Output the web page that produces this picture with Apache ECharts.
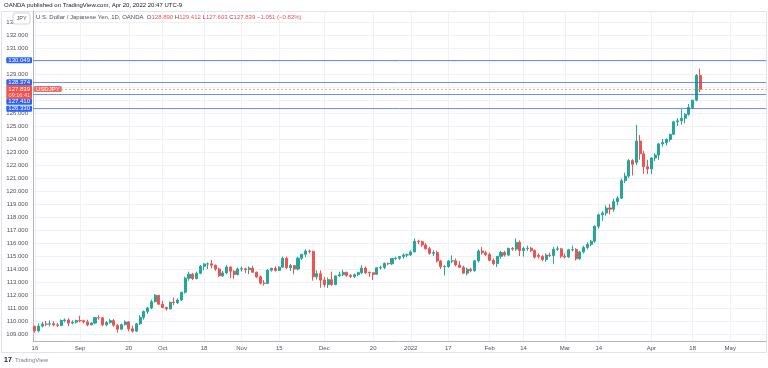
<!DOCTYPE html>
<html><head><meta charset="utf-8">
<script src="https://cdn.jsdelivr.net/npm/echarts@6/dist/echarts.min.js"></script>
<style>html,body{margin:0;padding:0;background:#fff}#c{width:768px;height:368px}</style>
</head><body><div id="c"></div><script>
// rows: [open, high, low, close]
const aug21 = [
 [109.59,109.63,109.11,109.24],[109.24,109.83,109.12,109.61],[109.61,109.93,109.50,109.77],[109.77,110.00,109.60,109.76],[109.76,110.05,109.60,109.79],
 [109.79,109.98,109.60,109.70],[109.70,109.85,109.55,109.66],[109.66,110.12,109.60,110.03],[110.03,110.20,109.90,110.08],[110.08,110.21,109.60,109.84],
 [109.84,110.05,109.75,109.91],[109.91,110.10,109.80,110.03]];
const sep21 = [
 [110.03,110.40,109.90,110.02],[110.02,110.10,109.80,109.93],[109.93,110.10,109.60,109.70],
 [109.70,109.90,109.70,109.84],[109.84,110.30,109.75,110.26],[110.26,110.45,110.10,110.25],[110.25,110.30,109.60,109.71],[109.71,110.00,109.60,109.88],
 [109.88,110.15,109.80,110.03],[110.03,110.15,109.55,109.68],[109.68,109.75,109.10,109.37],[109.37,109.80,109.30,109.72],[109.72,110.05,109.65,109.93],
 [109.93,109.98,109.20,109.40],[109.40,109.65,109.10,109.22],[109.22,109.85,109.15,109.78],[109.78,110.45,109.70,110.28],[110.28,110.80,110.10,110.74],
 [110.74,111.10,110.55,111.00],[111.00,111.65,110.90,111.49],[111.49,112.08,111.40,111.98],[111.98,112.00,111.25,111.29]];
const oct21 = [
 [111.29,111.55,110.98,111.04],
 [111.04,111.10,110.80,110.93],[110.93,111.50,110.90,111.44],[111.44,111.80,111.20,111.41],[111.41,111.75,111.30,111.61],[111.61,112.25,111.55,112.21],
 [112.21,113.40,112.10,113.29],[113.29,113.80,113.10,113.60],[113.60,113.70,113.15,113.27],[113.27,113.80,113.20,113.67],[113.67,114.30,113.60,114.21],
 [114.21,114.45,113.90,114.38],[114.38,114.50,114.00,114.40],[114.40,114.70,114.05,114.29],[114.29,114.35,113.85,114.00],[114.00,114.10,113.40,113.47],
 [113.47,113.85,113.40,113.70],[113.70,114.30,113.60,114.15],[114.15,114.20,113.30,113.83],[113.83,113.90,113.25,113.58],[113.58,114.10,113.50,114.00]];
const nov21 = [
 [114.00,114.20,113.80,114.02],[114.02,114.10,113.70,113.95],[113.95,114.20,113.60,114.07],[114.07,114.25,113.70,113.75],[113.75,113.80,113.30,113.40],
 [113.40,113.50,112.80,112.91],[112.91,113.15,112.72,112.89],[112.89,114.00,112.85,113.91],[113.91,114.10,113.80,114.05],[114.05,114.20,113.80,113.89],
 [113.89,114.20,113.85,114.14],[114.14,114.95,114.10,114.82],[114.82,114.95,114.00,114.11],[114.11,114.40,113.85,114.26],[114.26,114.30,113.60,114.00],
 [114.00,114.95,113.90,114.83],[114.83,115.15,114.70,115.13],[115.13,115.52,114.90,115.38],[115.38,115.50,115.20,115.36],[115.36,115.40,113.10,113.40],
 [113.40,113.90,113.20,113.64],[113.64,113.90,112.55,113.16]];
const dec21 = [
 [113.16,113.40,112.60,112.80],[112.80,113.35,112.55,113.18],[113.18,113.80,112.70,112.80],
 [112.80,113.50,112.75,113.47],[113.47,113.80,113.40,113.56],[113.56,113.95,113.45,113.74],[113.74,113.80,113.40,113.51],[113.51,113.60,113.30,113.42],
 [113.42,113.65,113.30,113.56],[113.56,113.80,113.45,113.72],[113.72,114.30,113.60,114.07],[114.07,114.20,113.60,113.71],[113.75,113.80,113.40,113.71],
 [113.71,113.75,113.15,113.59],[113.59,114.15,113.55,114.09],[114.09,114.25,113.95,114.12],[114.12,114.50,114.00,114.43],[114.43,114.50,114.30,114.40],
 [114.40,114.85,114.30,114.81],[114.81,114.95,114.70,114.83],[114.83,115.00,114.70,114.96],[114.96,115.20,114.80,115.08],[115.08,115.20,114.90,115.09]];
const jan22 = [
 [115.09,115.45,115.00,115.31],[115.31,116.35,115.30,116.13],[116.13,116.25,115.90,116.10],[116.10,116.20,115.70,115.85],[115.85,116.00,115.50,115.56],
 [115.56,115.70,115.10,115.21],[115.21,115.45,115.00,115.26],[115.26,115.40,114.50,114.62],[114.62,114.70,114.00,114.18],[114.18,114.30,113.50,114.19],
 [114.19,114.70,114.10,114.61],[114.61,115.05,114.45,114.63],[114.63,114.80,114.20,114.31],[114.31,114.60,114.10,114.13],[114.13,114.25,113.65,113.68],
 [113.68,114.10,113.50,113.98],[113.98,114.10,113.75,113.87],[113.87,114.70,113.80,114.63],[114.63,115.50,114.50,115.38],[115.38,115.70,115.10,115.25],
 [115.25,115.40,115.00,115.12]];
const feb22 = [
 [115.12,115.25,114.60,114.67],[114.67,114.80,114.30,114.42],[114.42,115.00,114.15,114.98],[114.98,115.40,114.80,115.26],
 [115.26,115.40,114.95,115.07],[115.07,115.65,115.00,115.58],[115.58,115.70,115.40,115.53],[115.53,116.35,115.40,116.05],[116.05,116.20,115.00,115.42],
 [115.42,115.70,114.95,115.58],[115.58,115.80,115.40,115.60],[115.60,115.70,115.30,115.43],[115.43,115.50,114.80,114.91],[115.05,115.20,114.80,114.97],
 [114.97,115.10,114.60,114.73],[114.73,115.20,114.55,115.07],[115.07,115.25,114.90,115.03],[115.03,115.70,114.40,115.52],[115.52,115.75,115.40,115.55],
 [115.55,115.60,114.85,114.99]];
const mar22 = [
 [114.99,115.20,114.80,114.93],[114.93,115.55,114.85,115.48],[115.48,115.80,115.35,115.50],[115.50,115.60,114.65,114.79],
 [114.79,115.40,114.70,115.31],[115.31,115.80,115.20,115.66],[115.66,116.05,115.50,115.89],[115.89,116.25,115.75,116.14],[116.14,117.35,116.00,117.29],
 [117.29,118.25,117.10,118.17],[118.17,118.45,117.70,118.31],[118.31,118.90,118.10,118.69],[118.69,119.00,118.20,118.60],[118.60,119.40,118.40,119.18],
 [119.18,119.60,118.90,119.45],[119.45,120.95,119.40,120.79],[120.79,121.40,120.60,121.15],[121.15,122.45,121.00,122.34],[122.34,122.45,121.20,122.05],
 [122.20,125.09,122.00,123.84],[123.84,124.30,122.40,122.86],[122.86,123.10,121.30,121.87],[121.87,122.40,121.30,121.69]];
const apr22 = [
 [121.69,122.60,121.30,122.54],
 [122.54,122.90,122.30,122.76],[122.76,123.70,122.40,123.62],[123.62,124.00,123.40,123.73],[123.73,124.05,123.50,123.96],[123.96,124.40,123.80,124.36],
 [124.36,125.40,124.30,125.32],[125.32,125.60,125.00,125.40],[125.40,126.30,125.10,125.60],[125.60,126.00,125.20,125.89],[125.89,126.70,125.80,126.42],
 [126.42,127.00,126.30,126.99],[126.99,129.00,126.90,128.89],[128.89,129.41,127.60,127.84]];

const firstDay = '2021-08-16';
const categoryCount = 195;
const xTickDates  = ['2021-08-16','2021-09-01','2021-09-20','2021-10-01','2021-10-18','2021-11-01','2021-11-15','2021-12-01','2021-12-20','2022-01-03','2022-01-17','2022-02-01','2022-02-14','2022-03-01','2022-03-14','2022-04-01','2022-04-18','2022-05-02'];
const xTickLabels = ['16','Sep','20','Oct','18','Nov','15','Dec','20','2022','17','Feb','14','Mar','14','Apr','18','May'];
const yTicks = [109,110,111,112,113,114,115,116,117,118,119,120,121,122,123,124,125,126,127,128,129,130,131,132,133];
const levels = [130.049, 128.374, 127.410, 126.330];
const lastPrice = 127.839;
const countdown = '09:16:41';
const symbolName = 'USDJPY';

const rows = [].concat(aug21, sep21, oct21, nov21, dec21, jan22, feb22, mar22, apr22);
const cats = [];
let d = new Date(firstDay + 'T00:00:00Z');
while (cats.length < categoryCount) {
  const wd = d.getUTCDay();
  if (wd !== 0 && wd !== 6) cats.push(d.toISOString().slice(0, 10));
  d = new Date(d.getTime() + 86400000);
}
const tickMap = {};
xTickDates.forEach((t, i) => { tickMap[t] = xTickLabels[i]; });
const candleData = rows.map(r => [r[0], r[3], r[2], r[1]]);

const FONT = 'Liberation Sans';
const UP = '#26a69a', DOWN = '#ef5350', BLUE = '#2962ff';

const levelLines = levels.map((v, i) => ({
  yAxis: v,
  lineStyle: { color: 'rgba(41,98,255,0.7)', width: 1, type: 'solid' },
  label: {
    show: true, position: 'start', distance: 1, formatter: v.toFixed(3),
    backgroundColor: BLUE, color: '#ffffff', fontSize: 6, fontFamily: FONT,
    padding: [0, 2, 0, 2], lineHeight: 6, borderRadius: 1,
    offset: i === 2 ? [0, 7] : [0, 0]
  }
}));

const chart = echarts.init(document.getElementById('c'), null, { renderer: 'canvas' });
chart.setOption({
  animation: false,
  backgroundColor: '#fff',
  grid: { left: 33, right: 2, top: 11, bottom: 27, containLabel: false },
  xAxis: {
    type: 'category', data: cats, boundaryGap: true,
    axisLine: { show: true, lineStyle: { color: '#b2b5be', width: 1 } },
    axisTick: { show: false },
    axisLabel: {
      interval: (i, v) => v in tickMap, formatter: v => tickMap[v] || '',
      fontSize: 6, color: '#50535e', margin: 4, fontFamily: FONT
    },
    splitLine: { show: true, alignWithLabel: true, interval: (i, v) => v in tickMap, lineStyle: { color: '#eef1f7', width: 1 } }
  },
  yAxis: {
    type: 'value', position: 'left', min: 108.4615, max: 133.846, scale: true,
    axisLine: { show: true, lineStyle: { color: '#b2b5be', width: 1 } },
    axisTick: { show: false, customValues: yTicks },
    axisLabel: { customValues: yTicks, formatter: v => v.toFixed(3), fontSize: 6, color: '#50535e', margin: 5, fontFamily: FONT },
    splitLine: { show: true, lineStyle: { color: '#eef1f7', width: 1 } }
  },
  series: [{
    type: 'candlestick', data: candleData, barWidth: '68%',
    itemStyle: { color: UP, color0: DOWN, borderColor: UP, borderColor0: DOWN, borderWidth: 1 },
    markLine: {
      symbol: ['none', 'none'], silent: true, animation: false,
      data: levelLines.concat([
        {
          yAxis: lastPrice,
          lineStyle: { color: 'rgba(239,83,80,0.5)', width: 1, type: [2, 2] },
          label: {
            show: true, position: 'start', distance: 1,
            formatter: '{a|' + lastPrice.toFixed(3) + '}\n{b|' + countdown + '}',
            backgroundColor: DOWN, padding: [1, 2, 1, 2], borderRadius: 1, offset: [0, 3],
            rich: {
              a: { color: '#ffffff', fontSize: 6, fontFamily: FONT, lineHeight: 6 },
              b: { color: '#fde0df', fontSize: 5.5, fontFamily: FONT, lineHeight: 6 }
            }
          }
        },
        {
          yAxis: lastPrice,
          lineStyle: { color: 'rgba(0,0,0,0)', width: 1 },
          label: {
            show: true, position: 'insideStart', distance: 1, formatter: symbolName,
            verticalAlign: 'middle', offset: [0, 0],
            backgroundColor: '#f06b68', color: '#ffffff', fontSize: 6, fontFamily: FONT,
            padding: [0, 2, 0, 2], lineHeight: 6, borderRadius: 1
          }
        }
      ])
    }
  }],
  graphic: [
    { type: 'rect', shape: { x: 1.5, y: 11.5, width: 765, height: 341 }, style: { fill: 'none', stroke: '#e0e3eb', lineWidth: 1 }, z: 0, silent: true },
    { type: 'text', left: 4, top: 2, style: { text: 'OANDA published on TradingView.com, Apr 20, 2022 20:47 UTC-9', fontSize: 6, fill: '#131722', fontFamily: FONT } },
    { type: 'rect', shape: { x: 13, y: 13, width: 17, height: 11, r: 2 }, style: { fill: '#fff', stroke: '#d1d4dc', lineWidth: 1 }, z: 100 },
    { type: 'text', x: 21.5, y: 18.5, z: 101, style: { text: 'JPY', fontSize: 5.5, fill: '#50535e', fontFamily: FONT, align: 'center', verticalAlign: 'middle' } },
    { type: 'text', x: 36, y: 17, z: 101, style: {
        text: '{g|U.S. Dollar / Japanese Yen, 1D, OANDA  }{g|O}{r|128.890 }{g|H}{r|129.412 }{g|L}{r|127.603 }{g|C}{r|127.839 −1.051 (−0.82%)}',
        verticalAlign: 'middle',
        rich: { g: { fontSize: 6, fill: '#4a4e59', fontFamily: FONT }, r: { fontSize: 6, fill: DOWN, fontFamily: FONT } } } },
    { type: 'text', x: 4, y: 360, style: { text: '{l|17} {t|TradingView}', verticalAlign: 'middle',
        rich: { l: { fontSize: 7, fontWeight: 'bold', fill: '#131722', fontFamily: FONT }, t: { fontSize: 6, fill: '#787b86', fontFamily: FONT } } } }
  ]
});
</script></body></html>
